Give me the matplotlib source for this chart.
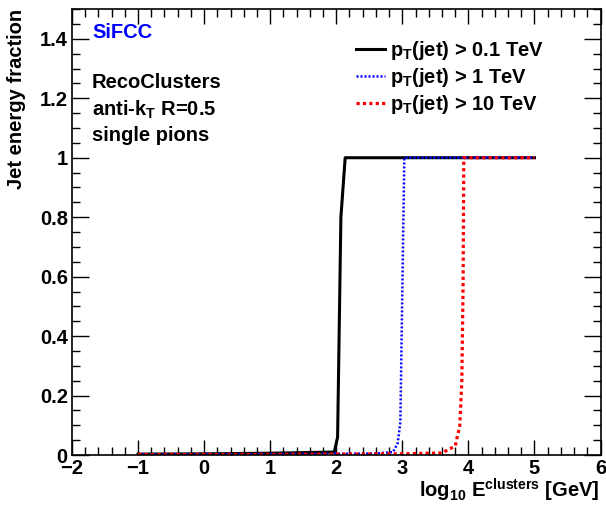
import matplotlib
matplotlib.use("Agg")
import matplotlib.pyplot as plt
from matplotlib.ticker import MultipleLocator

plt.rcParams["font.family"] = ["Liberation Sans", "DejaVu Sans"]
plt.rcParams["font.weight"] = "bold"
plt.rcParams["axes.labelweight"] = "bold"
plt.rcParams["mathtext.fontset"] = "custom"
plt.rcParams["mathtext.rm"] = "Liberation Sans:bold"
plt.rcParams["mathtext.it"] = "Liberation Sans:bold"
plt.rcParams["mathtext.bf"] = "Liberation Sans:bold"
plt.rcParams["mathtext.default"] = "rm"

# jet energy fraction vs log10 E(clusters), one curve per jet pT cut
x_01 = [-1.0, 0.0, 1.0, 1.5, 1.97, 2.02, 2.07, 2.135, 3.0, 4.0, 5.0]
y_01 = [0.003, 0.004, 0.006, 0.008, 0.01, 0.06, 0.80, 1.0, 1.0, 1.0, 1.0]

x_1 = [-1.0, 0.0, 1.0, 2.0, 2.6, 2.86, 2.93, 2.97, 3.03, 4.0, 5.0]
y_1 = [0.002, 0.002, 0.003, 0.004, 0.005, 0.01, 0.04, 0.11, 1.0, 1.0, 1.0]

x_10 = [-1.0, 0.0, 1.0, 2.0, 3.0, 3.6, 3.8, 3.87, 3.90, 3.92, 3.93, 4.5, 5.0]
y_10 = [0.002, 0.002, 0.002, 0.003, 0.004, 0.007, 0.03, 0.10, 0.245, 0.58, 1.0, 1.0, 1.0]

labels = [r"p$_{T}$(jet) > 0.1 TeV", r"p$_{T}$(jet) > 1 TeV", r"p$_{T}$(jet) > 10 TeV"]

FS = 14.5

fig = plt.figure(figsize=(6.06, 5.05), dpi=100)
ax = fig.add_axes([0.1188, 0.099, 0.8722, 0.883])

ax.plot(x_01, y_01, color="black", lw=2.2, ls="-", label=labels[0])
ax.plot(x_1, y_1, color="#0000ff", lw=1.8, ls=(0, (0.8, 0.8)), label=labels[1])
ax.plot(x_10, y_10, color="#ff0000", lw=2.3, ls=(0, (1.0, 1.0)), label=labels[2])

ax.set_xlim(-2, 6)
ax.set_ylim(0, 1.5)
ax.xaxis.set_major_locator(MultipleLocator(1))
ax.xaxis.set_minor_locator(MultipleLocator(0.2))
ax.yaxis.set_major_locator(MultipleLocator(0.2))
ax.yaxis.set_minor_locator(MultipleLocator(0.05))
ax.tick_params(which="both", direction="in", top=True, right=True, width=1, labelsize=FS)
ax.tick_params(which="major", axis="y", length=12)
ax.tick_params(which="minor", axis="y", length=6)
ax.tick_params(which="major", axis="x", length=11)
ax.tick_params(which="minor", axis="x", length=6)
ax.tick_params(axis="x", pad=3)
ax.tick_params(axis="y", pad=3)
ax.set_yticks([0, 0.2, 0.4, 0.6, 0.8, 1.0, 1.2, 1.4])
ax.set_yticklabels(["0", "0.2", "0.4", "0.6", "0.8", "1", "1.2", "1.4"])
for s in ax.spines.values():
    s.set_linewidth(1.2)

fig.text(600 / 606, 1 - 490 / 505, r"log$_{10}$ E$^{\mathrm{clusters}}$ [GeV]",
         fontsize=FS, ha="right", va="center")
ax.set_ylabel("Jet energy fraction", fontsize=FS, loc="top", labelpad=10)

ax.text(0.038, 0.947, "SiFCC", color="#0000ff", fontsize=FS, transform=ax.transAxes, va="center")
ax.text(0.038, 0.835, "RecoClusters", fontsize=FS, transform=ax.transAxes, va="center")
ax.text(0.038, 0.775, r"anti-k$_{T}$ R=0.5", fontsize=FS, transform=ax.transAxes, va="center")
ax.text(0.038, 0.717, "single pions", fontsize=FS, transform=ax.transAxes, va="center")

ax.legend(loc="upper left", bbox_to_anchor=(0.523, 0.95), frameon=False, fontsize=FS,
          handlelength=1.4, handletextpad=0.25, labelspacing=0.2, borderaxespad=0)

fig.savefig("out.png", dpi=100)
